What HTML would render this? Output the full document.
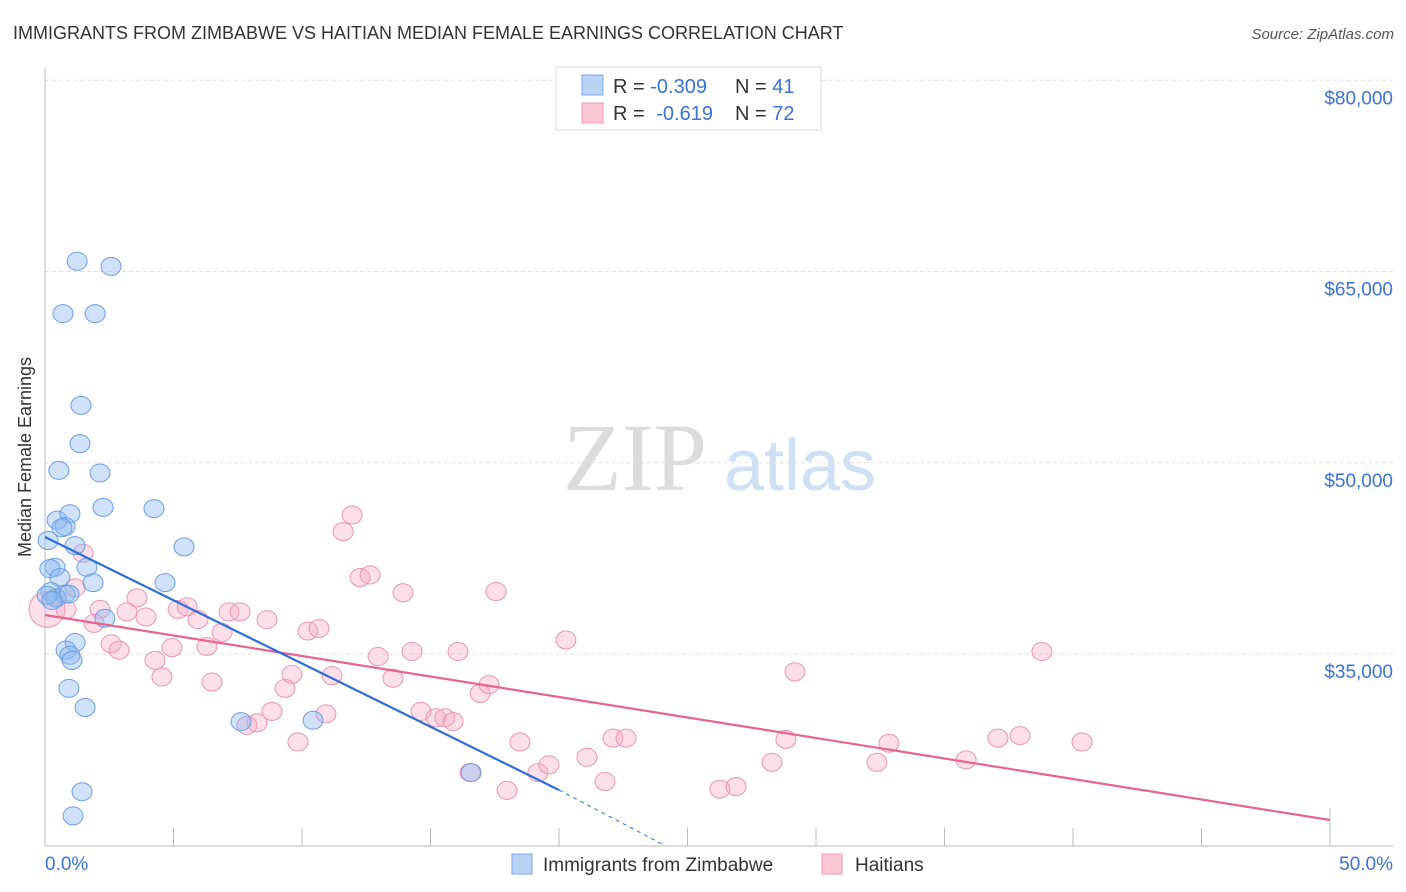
<!DOCTYPE html>
<html><head><meta charset="utf-8">
<style>
body{margin:0;background:#fff;font-family:"Liberation Sans",sans-serif;}
svg{display:block}
</style></head>
<body>
<svg id="chart" width="1406" height="892">
  <text x="13" y="39" font-size="18" fill="#333">IMMIGRANTS FROM ZIMBABWE VS HAITIAN MEDIAN FEMALE EARNINGS CORRELATION CHART</text>
  <text x="1394" y="39" font-size="15" fill="#555" font-style="italic" text-anchor="end">Source: ZipAtlas.com</text>
  <text x="31" y="457" font-size="18" fill="#333" text-anchor="middle" transform="rotate(-90 31 457)">Median Female Earnings</text>
  <g>
    <text x="635" y="490" font-size="96" fill="#dcdcdc" font-family="Liberation Serif,serif" text-anchor="middle">ZIP</text>
    <text x="800" y="490" font-size="72" fill="#cfe0f5" text-anchor="middle">atlas</text>
  </g>
  <g id="grid"></g>
  <g id="axes"></g>
  <g id="pinkpts"></g>
  <g id="bluepts"></g>
  <g id="lines"></g>
  <g>
    <rect x="556" y="67" width="265" height="63" fill="#fff" stroke="#ddd"/>
    <rect x="582" y="75" width="21" height="20" fill="#b9d3f5" stroke="#7aa8e6"/>
    <rect x="582" y="103" width="21" height="20" fill="#f9c6d6" stroke="#ee9ab5"/>
    <text x="613" y="93" font-size="20" fill="#333">R = <tspan fill="#3a72d8">-0.309</tspan></text>
    <text x="735" y="93" font-size="20" fill="#333">N = <tspan fill="#3a72d8">41</tspan></text>
    <text x="613" y="120" font-size="20" fill="#333">R = <tspan fill="#3a72d8" dx="6">-0.619</tspan></text>
    <text x="735" y="120" font-size="20" fill="#333">N = <tspan fill="#3a72d8">72</tspan></text>
  </g>
  <g>
    <rect x="512" y="854" width="20" height="20" fill="#b9d3f5" stroke="#7aa8e6"/>
    <text x="543" y="871" font-size="19" fill="#333">Immigrants from Zimbabwe</text>
    <rect x="822" y="854" width="20" height="20" fill="#f9c6d6" stroke="#ee9ab5"/>
    <text x="855" y="871" font-size="19" fill="#333">Haitians</text>
  </g>
</svg>
<script>
const yTicks=[80000,65000,50000,35000];
const yTickLabels=["$80,000","$65,000","$50,000","$35,000"];
const xTickLabels=["0.0%","50.0%"];
const blueX=[1.25,2.57,0.70,1.95,1.40,1.36,0.54,2.14,2.26,4.24,0.47,0.97,0.78,0.66,5.41,1.17,0.12,1.63,0.39,0.19,0.58,1.87,4.67,0.23,0.78,0.43,2.33,0.93,1.17,0.82,0.97,1.05,0.93,1.56,7.63,10.43,16.58,1.44,1.09,0.08,0.27];
const blueY=[65800,65400,61700,61700,54500,51500,49400,49200,46500,46400,45500,46000,45000,44900,43400,43500,43900,41800,41800,41700,41000,40600,40600,39900,39700,39400,37800,39700,35900,35300,34900,34500,32300,30800,29700,29800,25700,24200,22300,39600,39200];
const pinkX=[0.08,1.48,1.17,0.82,2.14,1.91,2.57,2.88,3.58,3.19,3.93,4.28,4.55,4.94,5.18,5.53,5.95,6.30,6.50,6.89,7.16,7.59,7.86,8.25,8.64,8.83,9.34,9.61,9.84,10.23,10.66,10.93,11.17,11.60,11.95,12.26,12.65,12.96,13.54,13.93,14.28,14.63,15.21,15.56,15.88,16.07,16.93,17.28,17.55,17.98,18.48,19.18,19.61,20.27,21.09,21.79,22.10,22.61,26.26,26.89,28.29,28.83,29.18,32.37,32.84,35.84,37.08,37.94,38.79,40.35,16.54,0.43];
const pinkY=[38500,42900,40200,38500,38500,37400,35800,35300,39400,38300,37900,34500,33200,35500,38500,38700,37700,35600,32800,36700,38300,38300,29400,29600,37700,30500,32300,33400,28100,36800,37000,30300,33300,44600,45900,41000,41200,34800,33100,39800,35200,30500,30000,30000,29700,35200,31900,32600,39900,24300,28100,25700,26300,36100,26900,25000,28400,28400,24400,24600,26500,28300,33600,26500,28000,26700,28400,28600,35200,28100,25700,39400];
const blueTrendX=[0,20];
const blueTrendY=[44176,24333];
const blueDashX=[20,24.1];
const blueDashY=[24333,20000];
const pinkTrendX=[0,50];
const pinkTrendY=[38059,21980];

const NS="http://www.w3.org/2000/svg";
const sx=p=>45+p*(1285/50);
const sy=v=>654-(v-35000)*0.01275;
function mk(tag,attrs,parent){const e=document.createElementNS(NS,tag);for(const k in attrs)e.setAttribute(k,attrs[k]);document.getElementById(parent).appendChild(e);return e;}

yTicks.forEach((t,i)=>{
  const l=mk('line',{x1:45,x2:1393,y1:sy(t),y2:sy(t),stroke:'#e2e2e2','stroke-dasharray':'4,3'},'grid');
  
  
  const tx=mk('text',{x:1393,y:sy(t)+24,'font-size':19,fill:'#3a72d8','text-anchor':'end'},'grid');
  tx.textContent=yTickLabels[i];
  
  
});
let ax=mk('line',{x1:45,x2:45,y1:68,y2:846,stroke:'#bbb'},'axes');


ax=mk('line',{x1:45,x2:1393,y1:846,y2:846,stroke:'#bbb'},'axes');


for(let i=1;i<=10;i++){
  const tk=mk('line',{x1:sx(i*5),x2:sx(i*5),y1:i==10?808:828,y2:846,stroke:'#bbb'},'axes');
  
  
}
let xl=mk('text',{x:45,y:870,'font-size':19,fill:'#3a72d8'},'axes');
xl.textContent=xTickLabels[0];


xl=mk('text',{x:1393,y:870,'font-size':19,fill:'#3a72d8','text-anchor':'end'},'axes');
xl.textContent=xTickLabels[1];



pinkX.forEach((x,i)=>{
  const big=i===0;
  const c=mk('ellipse',{cx:sx(x),cy:sy(pinkY[i]),rx:big?18:10,ry:big?18:9,fill:'rgba(246,170,196,0.38)',stroke:'#e995b1','stroke-width':1},'pinkpts');
  
  
});
blueX.forEach((x,i)=>{
  const c=mk('ellipse',{cx:sx(x),cy:sy(blueY[i]),rx:10,ry:9,fill:'rgba(140,185,240,0.42)',stroke:'#6b9ee3','stroke-width':1},'bluepts');
  
  
});
let tl=mk('line',{x1:sx(pinkTrendX[0]),y1:sy(pinkTrendY[0]),x2:sx(pinkTrendX[1]),y2:sy(pinkTrendY[1]),stroke:'#e8648f','stroke-width':2.2},'lines');


tl=mk('line',{x1:sx(blueTrendX[0]),y1:sy(blueTrendY[0]),x2:sx(blueTrendX[1]),y2:sy(blueTrendY[1]),stroke:'#2f6fd6','stroke-width':2.2},'lines');


tl=mk('line',{x1:sx(blueDashX[0]),y1:sy(blueDashY[0]),x2:sx(blueDashX[1]),y2:sy(blueDashY[1]),stroke:'#2f6fd6','stroke-width':1,'stroke-dasharray':'4,4'},'lines');


</script>
</body></html>
